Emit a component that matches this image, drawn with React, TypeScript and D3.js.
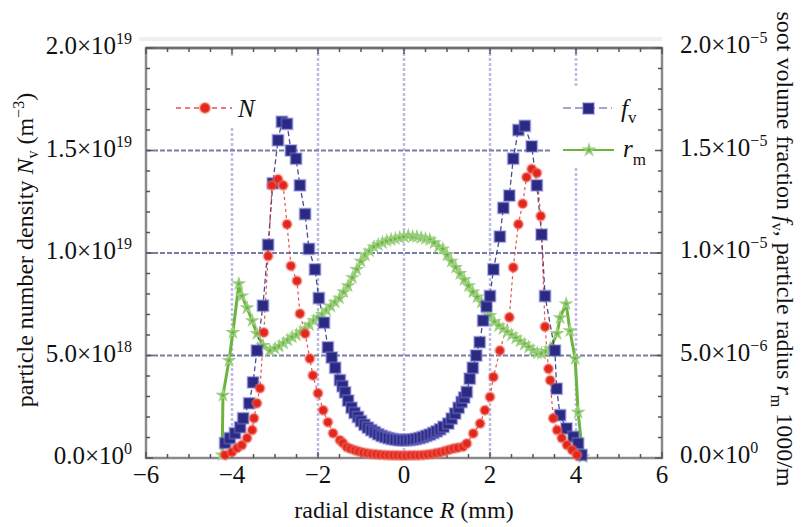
import React from "react";
import * as d3 from "d3";

// radial positions (mm) and values
const nR = [-4.16, -4.0, -3.88, -3.77, -3.65, -3.53, -3.49, -3.42, -3.35, -3.26, -3.16, -3.07, -2.93, -2.81, -2.72, -2.63, -2.49, -2.42, -2.3, -2.19, -2.12, -2.0, -1.88, -1.77, -1.65, -1.49, -1.42, -1.33, -1.24, -1.14, -1.05, -0.95, -0.85, -0.75, -0.65, -0.55, -0.45, -0.35, -0.25, -0.15, -0.05, 0.05, 0.15, 0.25, 0.35, 0.45, 0.55, 0.65, 0.75, 0.85, 0.95, 1.05, 1.15, 1.25, 1.37, 1.46, 1.61, 1.77, 1.88, 2.0, 2.08, 2.23, 2.45, 2.54, 2.66, 2.76, 2.85, 2.97, 3.09, 3.18, 3.28, 3.36, 3.4, 3.47, 3.56, 3.67, 3.79, 3.91, 4.02];
const nVal = [0.15, 0.29, 0.49, 0.63, 0.97, 1.36, 1.94, 2.67, 3.4, 6.12, 9.85, 13.3, 13.6, 13.3, 11.4, 9.37, 8.64, 7.04, 6.07, 4.85, 4.03, 3.16, 2.33, 1.75, 1.21, 0.87, 0.73, 0.53, 0.45, 0.38, 0.32, 0.27, 0.23, 0.2, 0.18, 0.16, 0.15, 0.14, 0.13, 0.13, 0.12, 0.12, 0.13, 0.13, 0.14, 0.15, 0.17, 0.2, 0.24, 0.28, 0.34, 0.4, 0.46, 0.5, 0.55, 0.71, 1.2, 1.68, 2.33, 2.98, 3.95, 5.24, 6.86, 9.29, 11.4, 12.4, 13.7, 14.1, 13.9, 11.8, 6.4, 4.35, 3.79, 1.94, 1.36, 0.97, 0.63, 0.39, 0.15]; // ×10^18 m^-3

const fvR = [-4.16, -4.05, -3.93, -3.81, -3.74, -3.6, -3.51, -3.42, -3.28, -3.16, -3.05, -2.93, -2.84, -2.72, -2.63, -2.51, -2.42, -2.3, -2.21, -2.07, -1.98, -1.86, -1.77, -1.68, -1.6, -1.49, -1.43, -1.37, -1.3, -1.22, -1.15, -1.07, -1.0, -0.92, -0.84, -0.76, -0.68, -0.6, -0.52, -0.44, -0.36, -0.28, -0.2, -0.12, -0.04, 0.04, 0.12, 0.2, 0.28, 0.36, 0.44, 0.52, 0.6, 0.68, 0.76, 0.84, 0.92, 1.03, 1.11, 1.19, 1.27, 1.34, 1.4, 1.46, 1.53, 1.6, 1.68, 1.76, 1.84, 1.92, 2.0, 2.08, 2.23, 2.31, 2.45, 2.54, 2.66, 2.81, 2.97, 3.09, 3.2, 3.28, 3.51, 3.55, 3.63, 3.78, 3.94, 4.05, 4.13];
const fvVal = [0.73, 0.97, 1.21, 1.5, 1.94, 2.67, 3.69, 5.24, 7.43, 10.4, 13.4, 15.5, 16.4, 16.3, 15.0, 14.6, 13.3, 11.9, 10.2, 9.2, 7.8, 6.6, 5.4, 4.9, 4.4, 3.8, 3.5, 3.2, 2.8, 2.45, 2.2, 2.0, 1.8, 1.62, 1.48, 1.36, 1.26, 1.16, 1.08, 1.02, 0.97, 0.93, 0.9, 0.88, 0.87, 0.87, 0.88, 0.9, 0.93, 0.97, 1.02, 1.08, 1.14, 1.22, 1.3, 1.4, 1.52, 1.68, 1.92, 2.17, 2.45, 2.73, 2.95, 3.22, 3.87, 4.4, 5.0, 5.65, 6.7, 7.4, 7.9, 9.2, 10.8, 12.2, 12.8, 14.6, 16.0, 16.2, 15.2, 13.3, 10.9, 7.9, 5.24, 3.38, 2.09, 1.44, 1.03, 0.71, 0.15]; // ×10^-6

const rmR = [-4.23, -4.21, -4.07, -3.98, -3.84, -3.77, -3.65, -3.53, -3.42, -3.28, -3.12, -3.0, -2.9, -2.8, -2.7, -2.6, -2.5, -2.4, -2.3, -2.2, -2.1, -2.0, -1.9, -1.8, -1.7, -1.6, -1.5, -1.4, -1.3, -1.2, -1.1, -1.0, -0.9, -0.8, -0.7, -0.6, -0.5, -0.4, -0.3, -0.2, -0.1, 0.0, 0.1, 0.2, 0.3, 0.4, 0.5, 0.6, 0.7, 0.8, 0.9, 1.0, 1.1, 1.2, 1.3, 1.4, 1.5, 1.6, 1.7, 1.8, 1.9, 2.0, 2.1, 2.2, 2.3, 2.4, 2.5, 2.6, 2.7, 2.8, 2.9, 3.0, 3.1, 3.2, 3.3, 3.4, 3.56, 3.63, 3.77, 3.86, 3.98, 4.05, 4.16];
const rmVal = [0.15, 3.06, 4.76, 6.12, 8.5, 7.91, 7.33, 6.7, 6.07, 5.49, 5.24, 5.35, 5.45, 5.6, 5.75, 5.9, 6.0, 6.15, 6.3, 6.5, 6.7, 6.85, 7.0, 7.2, 7.4, 7.6, 7.8, 8.1, 8.4, 8.8, 9.2, 9.6, 9.9, 10.1, 10.3, 10.4, 10.5, 10.6, 10.65, 10.7, 10.75, 10.8, 10.85, 10.8, 10.8, 10.75, 10.7, 10.65, 10.5, 10.3, 10.2, 9.9, 9.6, 9.3, 9.0, 8.7, 8.4, 8.1, 7.85, 7.6, 7.3, 6.95, 6.65, 6.45, 6.3, 6.15, 6.0, 5.85, 5.7, 5.55, 5.4, 5.25, 5.12, 5.1, 5.2, 5.34, 6.07, 6.84, 7.52, 6.21, 4.85, 2.23, 0.05]; // ×10^-6

const xTicks = [-6, -4, -2, 0, 2, 4, 6];
const yTicks = [0, 5, 10, 15, 20];
const leftMant = ["0.0", "5.0", "1.0", "1.5", "2.0"];
const leftExp = ["0", "18", "19", "19", "19"];
const rightMant = ["0.0", "5.0", "1.0", "1.5", "2.0"];
const rightExp = ["0", "\u22126", "\u22125", "\u22125", "\u22125"];

const W = 805;
const H = 527;
const L = 146, R = 662, T = 48, B = 458;
const FONT = '"Liberation Serif", "DejaVu Serif", serif';

const RED = "#e2261c";
const BLUE = "#2b2a82";
const GREEN = "#6cb43e";

export default function App() {
  const x = d3.scaleLinear().domain([-6, 6]).range([L, R]);
  const y = d3.scaleLinear().domain([0, 20]).range([B, T]);

  const line = d3.line<[number, number]>().x((d) => x(d[0])).y((d) => y(d[1]));
  const nPts = nR.map((r, i) => [r, nVal[i]] as [number, number]);
  const fvPts = fvR.map((r, i) => [r, fvVal[i]] as [number, number]);
  const rmPts = rmR.map((r, i) => [r, rmVal[i]] as [number, number]);
  const star = d3.symbol().type(d3.symbolStar).size(34)();

  const xMinor = d3.range(-6, 6.01, 0.5);
  const yMinor = d3.range(0, 20.01, 1);

  return (
    <svg width={W} height={H} style={{ position: "absolute", left: 0, top: 0, fontFamily: FONT }}>
      <rect width={W} height={H} fill="#fff" />
      <rect x={139} y={37} width={R - 139} height={4} fill="#efefef" />

      {/* grid */}
      {[-4, -2, 0, 2, 4].map((v) => (
        <line key={"gx" + v} x1={x(v)} x2={x(v)} y1={T} y2={B} stroke="#bcbce6" strokeWidth={2.5} strokeDasharray="3,2" />
      ))}
      {[5, 10, 15].map((v) => (
        <line key={"gy" + v} x1={L} x2={R} y1={y(v)} y2={y(v)} stroke="#7a7aa6" strokeWidth={2} strokeDasharray="5,2" />
      ))}

      {/* legend backgrounds */}
      <rect x={160} y={58} width={104} height={70} fill="#fff" />
      <rect x={552} y={86} width={108} height={82} fill="#fff" />

      {/* frame */}
      <rect x={L} y={T} width={R - L} height={B - T} fill="none" stroke="#8a8a8a" strokeWidth={2.5} />
      <line x1={L} x2={R} y1={T} y2={T} stroke="#6e6e6e" strokeWidth={2.5} />

      {/* ticks */}
      {xMinor.map((v, i) => {
        const len = Math.abs(v % 2) < 1e-6 ? 6 : 4;
        return (
          <g key={"xt" + i} stroke="#555" strokeWidth={1.5}>
            <line x1={x(v)} x2={x(v)} y1={B} y2={B - len} />
            <line x1={x(v)} x2={x(v)} y1={T} y2={T + len} />
          </g>
        );
      })}
      {yMinor.map((v, i) => {
        const len = v % 5 === 0 ? 7 : 4;
        return (
          <g key={"yt" + i} stroke="#555" strokeWidth={1.5}>
            <line x1={L} x2={L + len} y1={y(v)} y2={y(v)} />
            <line x1={R} x2={R - len} y1={y(v)} y2={y(v)} />
          </g>
        );
      })}

      {/* series lines */}
      <path d={line(rmPts) || ""} fill="none" stroke={GREEN} strokeWidth={3} />
      <path d={line(fvPts) || ""} fill="none" stroke={BLUE} strokeWidth={1.3} strokeDasharray="5,3" opacity={0.85} />
      <path d={line(nPts) || ""} fill="none" stroke={RED} strokeWidth={1.2} strokeDasharray="3,3" opacity={0.8} />

      {/* markers */}
      {rmPts.map((p, i) => (
        <path key={"rm" + i} d={star || ""} transform={`translate(${x(p[0])},${y(p[1])})`} fill={GREEN} stroke="#9ccf80" strokeWidth={1.5} />
      ))}
      {fvPts.map((p, i) => (
        <rect key={"fv" + i} x={x(p[0]) - 5.5} y={y(p[1]) - 5.5} width={11} height={11} fill={BLUE} stroke="rgba(120,120,210,0.45)" strokeWidth={2} />
      ))}
      {nPts.map((p, i) => (
        <circle key={"n" + i} cx={x(p[0])} cy={y(p[1])} r={4.5} fill={RED} stroke="rgba(240,110,100,0.45)" strokeWidth={2.5} />
      ))}

      {/* legend */}
      <line x1={176} x2={232} y1={108} y2={108} stroke={RED} strokeWidth={1.5} strokeDasharray="5,4" opacity={0.8} />
      <circle cx={205} cy={108} r={5} fill={RED} stroke="rgba(240,110,100,0.45)" strokeWidth={2.5} />
      <text x={238} y={117} fontSize={25} fontStyle="italic" fill="#111">N</text>

      <line x1={563} x2={612} y1={108} y2={108} stroke="#6a6ab4" strokeWidth={1.5} strokeDasharray="8,4" opacity={0.8} />
      <rect x={583} y={103} width={11} height={11} fill={BLUE} stroke="rgba(120,120,210,0.45)" strokeWidth={2} />
      <text x={621} y={117} fontSize={25} fill="#111">
        <tspan fontStyle="italic">f</tspan>
        <tspan fontSize={17} dy={6}>v</tspan>
      </text>

      <line x1={563} x2={614} y1={150} y2={150} stroke={GREEN} strokeWidth={1.8} />
      <path d={star || ""} transform="translate(589,150)" fill={GREEN} stroke="#9ccf80" strokeWidth={1.5} />
      <text x={623} y={157} fontSize={25} fill="#111">
        <tspan fontStyle="italic">r</tspan>
        <tspan fontSize={17} dy={8}>m</tspan>
      </text>

      {/* left tick labels */}
      {yTicks.map((v, i) => (
        <text key={"ly" + v} x={132} y={y(v) + 6} fontSize={25} textAnchor="end" fill="#111">
          {leftMant[i]}×10
          <tspan fontSize={16} dy={-10}>{leftExp[i]}</tspan>
        </text>
      ))}
      {/* right tick labels */}
      {yTicks.map((v, i) => (
        <text key={"ry" + v} x={680} y={y(v) + 5} fontSize={25} fill="#111">
          {rightMant[i]}×10
          <tspan fontSize={16} dy={-10}>{rightExp[i]}</tspan>
        </text>
      ))}
      {/* x tick labels */}
      {xTicks.map((v) => (
        <text key={"xl" + v} x={x(v)} y={483} fontSize={25} textAnchor="middle" fill="#111">
          {v < 0 ? "\u2212" + Math.abs(v) : String(v)}
        </text>
      ))}

      {/* axis titles */}
      <text x={404} y={518} fontSize={24} textAnchor="middle" fill="#111">
        radial distance <tspan fontStyle="italic">R</tspan> (mm)
      </text>
      <text transform="translate(33,250) rotate(-90)" fontSize={24} textAnchor="middle" fill="#111">
        particle number density <tspan fontStyle="italic">N</tspan>
        <tspan fontSize={16} dy={5}>v</tspan>
        <tspan dy={-5}> (m</tspan>
        <tspan fontSize={16} dy={-9}>−3</tspan>
        <tspan dy={9}>)</tspan>
      </text>
      <text transform="translate(777,249) rotate(90)" fontSize={24} textAnchor="middle" fill="#111">
        soot volume fraction <tspan fontStyle="italic">f</tspan>
        <tspan fontSize={16} dy={5}>v</tspan>
        <tspan dy={-5}>, particle radius </tspan>
        <tspan fontStyle="italic">r</tspan>
        <tspan fontSize={16} dy={6}>m</tspan>
        <tspan dy={-6}> 1000/m</tspan>
      </text>
    </svg>
  );
}
